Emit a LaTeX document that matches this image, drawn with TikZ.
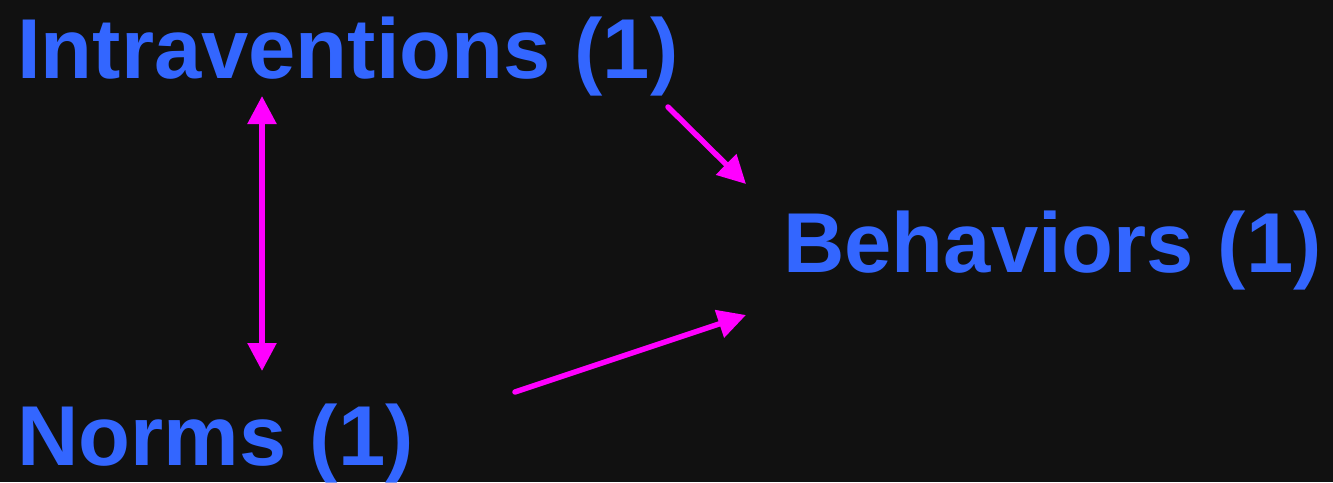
\documentclass[tikz,border=0pt]{standalone}
\usepackage{fontspec}
\setmainfont{Liberation Sans}
\usetikzlibrary{arrows.meta}
\definecolor{bg}{HTML}{111111}
\definecolor{labelblue}{HTML}{3366FF}
\definecolor{linkmag}{HTML}{FF00FF}
\begin{document}
\begin{tikzpicture}[x=1pt,y=-1pt,
  lbl/.style={anchor=base west,inner sep=0pt,text=labelblue,
    font=\fontsize{85}{85}\selectfont\bfseries},
  tip/.style={},
  link/.style={draw=linkmag,line width=5.5pt,line cap=round,
    -{Triangle[length=28pt,width=28pt]}},
  dlink/.style={link,{Triangle[length=28pt,width=28pt]}-{Triangle[length=28pt,width=28pt]}}]
\fill[bg] (0,0) rectangle (1333,482);
\useasboundingbox (0,0) rectangle (1333,482);
\node[lbl] (intra) at (17,78) {Intraventions (1)};
\node[lbl] (beh) at (783,272) {Behaviors (1)};
\node[lbl] (norms) at (17,465) {Norms (1)};
\coordinate (iv) at (262,96);
\coordinate (nv) at (262,371);
\coordinate (ia) at (668,107);
\coordinate (bt) at (746,184);
\coordinate (na) at (515,392);
\coordinate (bb) at (746,315);
\draw[dlink] (iv) -- (nv);
\draw[link] (ia) -- (bt);
\draw[link] (na) -- (bb);
\end{tikzpicture}
\end{document}
